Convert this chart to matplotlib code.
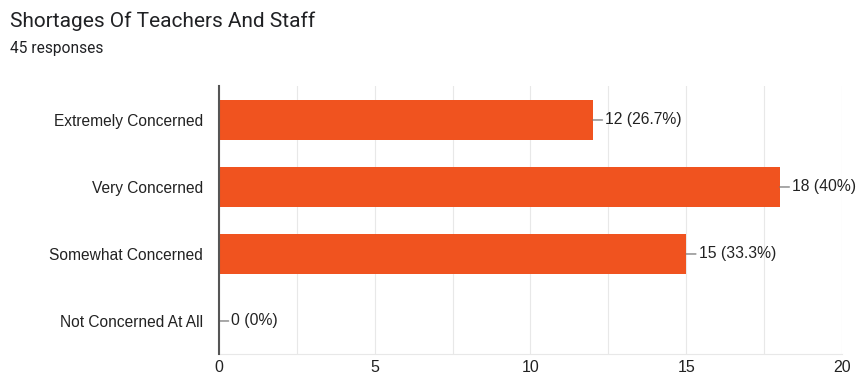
import matplotlib.pyplot as plt
from matplotlib.ticker import MultipleLocator

# Survey responses
categories = ['Extremely Concerned', 'Very Concerned', 'Somewhat Concerned', 'Not Concerned At All']
counts = [12, 18, 15, 0]
total = 45
x_ticks = [0, 5, 10, 15, 20]

bar_color = '#F0531F'
text_color = '#222222'
font = 'Liberation Sans'

fig = plt.figure(figsize=(8.59, 3.81), dpi=100)
ax = fig.add_axes([0.2549, 0.0696, 0.7253, 0.7034])

y = list(range(len(categories)))
ax.barh(y, counts, height=0.61, color=bar_color, zorder=3)
ax.set_ylim(len(categories) - 0.5, -0.5)
ax.set_xlim(0, 20)

# value labels with short leader lines
for yi, c in zip(y, counts):
    pct = round(c / total * 100, 1)
    pct_txt = f'{pct:g}'
    ax.annotate(f'{c} ({pct_txt}%)', xy=(c, yi), xytext=(9, 0), textcoords='offset points',
                ha='left', va='center', fontsize=11.3, color=text_color,
                family=font,
                arrowprops=dict(arrowstyle='-', color='#777777', lw=0.9,
                                shrinkA=0, shrinkB=0), zorder=4)

ax.set_yticks(y)
ax.set_yticklabels(categories, fontsize=11.2, color=text_color, family=font)
ax.set_xticks(x_ticks)
ax.set_xticklabels([str(t) for t in x_ticks], fontsize=11.5, color=text_color, family=font)
ax.xaxis.set_minor_locator(MultipleLocator(2.5))
ax.tick_params(axis='y', length=0, pad=11.5)
ax.tick_params(axis='x', which='both', length=0, pad=4)

ax.grid(axis='x', which='both', color='#e8e8e8', lw=0.8, zorder=0)
for s in ['top', 'right']:
    ax.spines[s].set_visible(False)
ax.spines['bottom'].set_color('#e8e8e8')
ax.spines['bottom'].set_linewidth(0.8)
ax.spines['left'].set_color('#555555')
ax.spines['left'].set_linewidth(1.5)
ax.spines['left'].set_zorder(5)

fig.text(10 / 859, 1 - 21 / 381, 'Shortages Of Teachers And Staff', fontsize=15,
         family='Roboto', color='#202124', ha='left', va='center')
fig.text(10 / 859, 1 - 49 / 381, '45 responses', fontsize=11.2, family='Roboto',
         color='#202124', ha='left', va='center')

fig.savefig('out.png', dpi=100)
